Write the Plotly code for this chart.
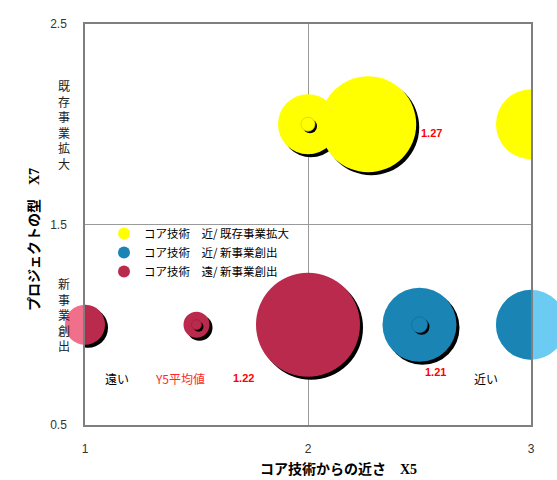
import plotly.graph_objects as go

# ---------------- data ----------------
series_names = ["コア技術　近/ 既存事業拡大", "コア技術　近/ 新事業創出", "コア技術　遠/ 新事業創出"]

near_existing_x = [2.0, 2.27, 3.0, 2.0]
near_existing_y = [2.0, 2.0, 2.0, 2.0]
near_existing_size = [30, 48, 35, 7]

near_new_x = [2.5, 3.0, 2.5]
near_new_y = [1.0, 1.0, 1.0]
near_new_size = [37, 35, 8]

far_new_x = [1.0, 1.5, 2.0, 1.5]
far_new_y = [1.0, 1.0, 1.0, 1.0]
far_new_size = [20, 13, 52, 5]

x_ticks = [1, 2, 3]
y_ticks = [0.5, 1.5, 2.5]

# ---------------- layout constants ----------------
W, H = 557, 480
ML, MR, MT, MB = 85, 26, 24, 55
PW, PH = W - ML - MR, H - MT - MB
XR, YR = [1, 3], [0.5, 2.5]
px_x = PW / (XR[1] - XR[0])
px_y = PH / (YR[1] - YR[0])
SIZEREF = 0.5

JP = "Noto Sans CJK JP"
ARIAL = "Liberation Sans"

styles = [
    dict(color="#FFFF00", edge="#C8C800", light=None),
    dict(color="#1A85B5", edge="#126890", light="#6CCBF2"),
    dict(color="#BA2A4C", edge="#8E1E3A", light="#F0708C"),
]
datasets = [
    (near_existing_x, near_existing_y, near_existing_size),
    (near_new_x, near_new_y, near_new_size),
    (far_new_x, far_new_y, far_new_size),
]

fig = go.Figure()

def mk(s, color, lw=0, lc="#000000"):
    return dict(size=[s], sizemode="diameter", sizeref=SIZEREF, color=color,
                opacity=1, line=dict(width=lw, color=lc))

for (xs, ys, ss), st in zip(datasets, styles):
    for x, y, s in zip(xs, ys, ss):
        small = s < 10
        sh = 2 if small else 3
        on_edge = x in (XR[0], XR[1])
        if st["light"] and on_edge:
            fig.add_trace(go.Scatter(
                x=[x], y=[y], mode="markers", cliponaxis=False, showlegend=False, hoverinfo="skip",
                marker=mk(s, st["light"])))
        fig.add_trace(go.Scatter(
            x=[x + sh / px_x], y=[y - sh / px_y], mode="markers", cliponaxis=True,
            showlegend=False, hoverinfo="skip", marker=mk(s, "#000000")))
        fig.add_trace(go.Scatter(
            x=[x], y=[y], mode="markers", cliponaxis=True, showlegend=False,
            marker=mk(s, st["color"], 0.6 if small else 0, st["edge"])))

for name, st in zip(series_names, styles):
    fig.add_trace(go.Scatter(
        x=[None], y=[None], mode="markers", name=name,
        marker=dict(size=8, color=st["color"], opacity=1)))

ann = []
def txt(x, y, t, color="#000000", size=12, bold=False, family=JP, xref="x", yref="y", **kw):
    ann.append(dict(x=x, y=y, xref=xref, yref=yref, text=f"<b>{t}</b>" if bold else t,
                    xanchor="center", yanchor="middle",
                    showarrow=False, font=dict(family=family, size=size, color=color), **kw))

txt(1.143, 0.734, "遠い")
txt(1.426, 0.734, "Y5平均値", color="#FF2828", size=12)
txt(1.709, 0.734, "1.22", color="#FF0000", size=11, bold=True, family=ARIAL)
txt(2.57, 0.764, "1.21", color="#FF0000", size=11, bold=True, family=ARIAL)
txt(2.80, 0.734, "近い")
txt(2.556, 1.956, "1.27", color="#FF0000", size=11, bold=True, family=ARIAL)
txt((64 - ML) / PW, 2.0, "<br>".join("既存事業拡大"), size=12, color="#222222", xref="paper")
txt((64 - ML) / PW, 1.05, "<br>".join("新事業創出"), size=12, color="#222222", xref="paper")

# axis titles
txt((33 - ML) / PW, (MT + PH - 240) / PH,
    '<b>プロジェクトの型</b>　<span style="font-family:Liberation Serif"><b>X7</b></span>',
    size=14, xref="paper", yref="paper", textangle=-90)
txt((338 - ML) / PW, (MT + PH - 468) / PH,
    '<b>コア技術からの近さ</b>　<span style="font-family:Liberation Serif"><b>X5</b></span>',
    size=14, xref="paper", yref="paper")

fig.update_layout(
    width=W, height=H,
    margin=dict(l=ML, r=MR, t=MT, b=MB),
    paper_bgcolor="white", plot_bgcolor="white",
    showlegend=True,
    legend=dict(x=(104 - ML) / PW, y=(MT + PH - 219) / PH, xanchor="left", yanchor="top",
                bgcolor="rgba(255,255,255,0)", font=dict(family=JP, size=11.5, color="#000000"),
                itemsizing="constant", tracegroupgap=0),
    annotations=ann,
    font=dict(family=ARIAL),
)
fig.update_xaxes(range=XR, tickvals=x_ticks, ticktext=[str(v) for v in x_ticks],
                 showgrid=True, gridcolor="#9A9A9A", gridwidth=1, zeroline=False,
                 showline=True, linecolor="#7F7F7F", linewidth=1.5, mirror=True,
                 ticks="", ticklabelstandoff=12, tickfont=dict(family=ARIAL, size=12, color="#333333"))
fig.update_yaxes(range=YR, tickvals=y_ticks, ticktext=[str(v) for v in y_ticks],
                 showgrid=True, gridcolor="#9A9A9A", gridwidth=1, zeroline=False,
                 showline=True, linecolor="#7F7F7F", linewidth=1.5, mirror=True,
                 ticks="", ticklabelstandoff=14, tickfont=dict(family=ARIAL, size=12, color="#333333"))

fig.write_html("out.html")
